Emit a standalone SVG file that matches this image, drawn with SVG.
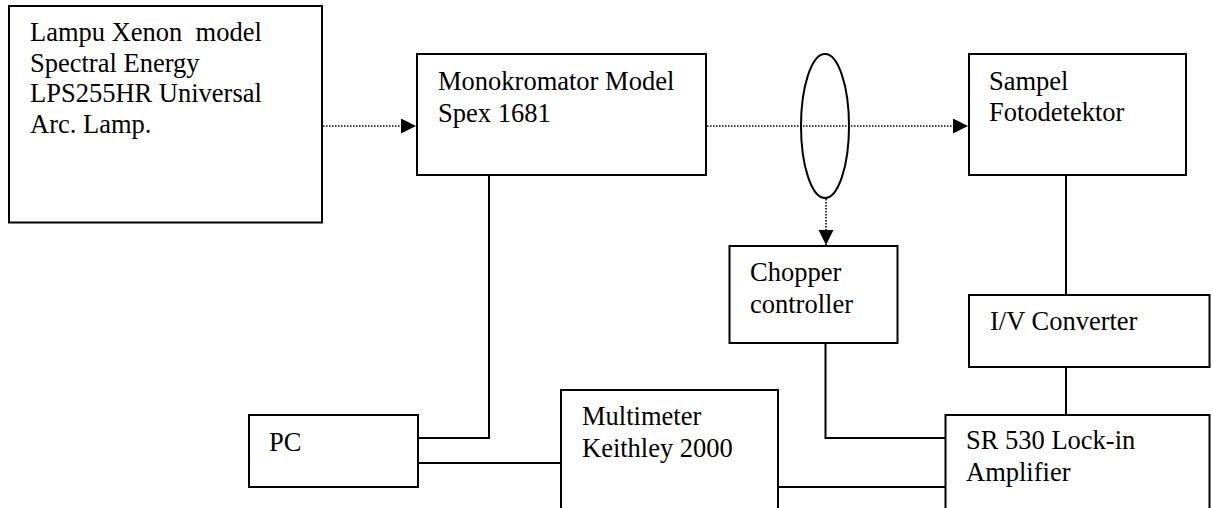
<svg xmlns="http://www.w3.org/2000/svg" width="1213" height="508" viewBox="0 0 1213 508">
<style>
.box{fill:#fff;stroke:#000;stroke-width:2}
.lbl{font-family:"Liberation Serif","Times New Roman",serif;font-size:26.5px;fill:#000;white-space:pre}
.wire{fill:none;stroke:#000;stroke-width:2}
.dot{fill:none;stroke:#000;stroke-width:1.6;stroke-dasharray:1.5 1.5}
.lens{fill:none;stroke:#000;stroke-width:2}
</style>
<defs>
<marker id="ah" markerUnits="userSpaceOnUse" markerWidth="16" markerHeight="16" refX="15" refY="7.5" orient="auto">
<path d="M0,0 L15,7.5 L0,15 Z" fill="#000" stroke="none"/>
</marker>
</defs>
<rect width="1213" height="508" fill="#fff"/>
<g id="connectors">
<line class="dot" x1="323" y1="126" x2="416" y2="126" marker-end="url(#ah)"/>
<line class="dot" x1="707" y1="126" x2="968" y2="126" marker-end="url(#ah)"/>
<line class="dot" x1="826" y1="199" x2="826" y2="245" marker-end="url(#ah)"/>
<path class="wire" d="M489,175 V438 H418"/>
<path class="wire" d="M418,463 H561"/>
<path class="wire" d="M825.5,343 V438 H945.5"/>
<path class="wire" d="M778,487 H945.5"/>
<path class="wire" d="M1066,175 V295"/>
<path class="wire" d="M1066,367 V415"/>
</g>
<g id="lens">
<ellipse class="lens" cx="825" cy="126" rx="24" ry="72"/>
</g>
<g id="lamp">
<rect class="box" x="9" y="6" width="313" height="216.5"/>
<text class="lbl" xml:space="preserve" x="30" y="41">Lampu Xenon  model</text>
<text class="lbl" x="30" y="72">Spectral Energy</text>
<text class="lbl" x="30" y="102">LPS255HR Universal</text>
<text class="lbl" x="30" y="132.5">Arc. Lamp.</text>
</g>
<g id="monokromator">
<rect class="box" x="417" y="54" width="289" height="121"/>
<text class="lbl" x="438" y="90">Monokromator Model</text>
<text class="lbl" x="438" y="121.5">Spex 1681</text>
</g>
<g id="sampel">
<rect class="box" x="969" y="54" width="217" height="121"/>
<text class="lbl" x="989" y="89.5">Sampel</text>
<text class="lbl" x="989" y="121">Fotodetektor</text>
</g>
<g id="chopper">
<rect class="box" x="729.5" y="246" width="168" height="97"/>
<text class="lbl" x="750" y="281">Chopper</text>
<text class="lbl" x="750" y="312.5">controller</text>
</g>
<g id="iv">
<rect class="box" x="969" y="295" width="240.5" height="72"/>
<text class="lbl" x="990" y="330">I/V Converter</text>
</g>
<g id="lockin">
<rect class="box" x="945.5" y="415" width="264" height="120"/>
<text class="lbl" x="966" y="448.5">SR 530 Lock-in</text>
<text class="lbl" x="966" y="481">Amplifier</text>
</g>
<g id="multimeter">
<rect class="box" x="561" y="390" width="217" height="140"/>
<text class="lbl" x="582" y="425">Multimeter</text>
<text class="lbl" x="582" y="457">Keithley 2000</text>
</g>
<g id="pc">
<rect class="box" x="249" y="415" width="169" height="72"/>
<text class="lbl" x="269" y="451">PC</text>
</g>
</svg>
